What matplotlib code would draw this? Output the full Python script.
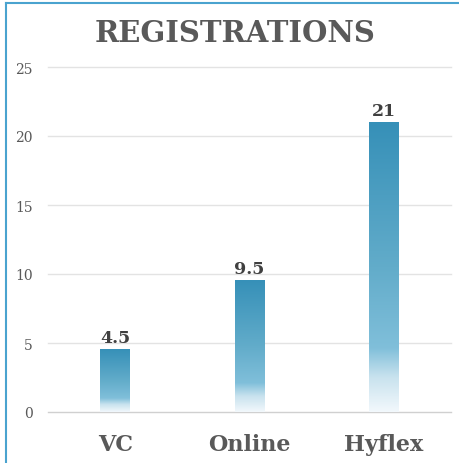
import numpy as np
import matplotlib
matplotlib.use("Agg")
import matplotlib.pyplot as plt
from matplotlib.colors import LinearSegmentedColormap
from matplotlib.lines import Line2D

categories = ["VC", "Online", "Hyflex"]
values = [4.5, 9.5, 21]
yticks = [0, 5, 10, 15, 20, 25]

plt.rcParams['font.family'] = ['DejaVu Serif']

fig = plt.figure(figsize=(4.59, 4.64), dpi=100)
ax = fig.add_axes([48 / 459, 51 / 464, 403 / 459, 345 / 464])

# gradient used to fill bars (bottom -> top)
cmap = LinearSegmentedColormap.from_list("bar", [
    (0.0, "#f2f8fc"),
    (0.12, "#c8e2ee"),
    (0.22, "#80bfda"),
    (0.5, "#62acca"),
    (1.0, "#3690b8"),
])

bars = ax.bar(range(len(categories)), values, width=0.22, color="none", zorder=3)
grad = np.linspace(0, 1, 256).reshape(-1, 1)
for b, v in zip(bars, values):
    x0 = b.get_x()
    ax.imshow(grad, cmap=cmap, origin="lower", aspect="auto",
              extent=(x0, x0 + b.get_width(), 0, b.get_height()), zorder=3)
    ax.text(b.get_x() + b.get_width() / 2, v + 0.25, str(v).replace(".0", ""),
            ha="center", va="bottom", fontsize=12.5, fontweight="bold", color="#404040")

ax.set_xlim(-0.5, 2.5)
ax.set_ylim(0, 25)
ax.set_yticks(yticks)
ax.set_xticks(range(len(categories)))
ax.set_xticklabels(categories, fontsize=16, fontweight="bold", color="#595959")
ax.tick_params(axis="y", labelsize=10, labelcolor="#595959", length=0, pad=11)
ax.tick_params(axis="x", length=0, pad=15)
ax.grid(axis="y", color="#e3e3e3", linewidth=1)
for gl in ax.get_ygridlines():
    gl.set_clip_on(False)
ax.get_ygridlines()[0].set_color("#d0d0d0")
ax.set_axisbelow(True)
for s in ax.spines.values():
    s.set_visible(False)

fig.text(235 / 459, 1 - 33 / 464, "REGISTRATIONS", ha="center", va="center",
         fontsize=21, fontweight="bold", color="#595959")

# outer frame (top and left edge visible)
fig.add_artist(Line2D([6 / 459, 1], [1 - 4 / 464, 1 - 4 / 464], color="#4aa3cf", linewidth=1.5))
fig.add_artist(Line2D([6 / 459, 6 / 459], [0, 1 - 4 / 464], color="#4aa3cf", linewidth=1.5))

fig.savefig("out.png", dpi=100)
